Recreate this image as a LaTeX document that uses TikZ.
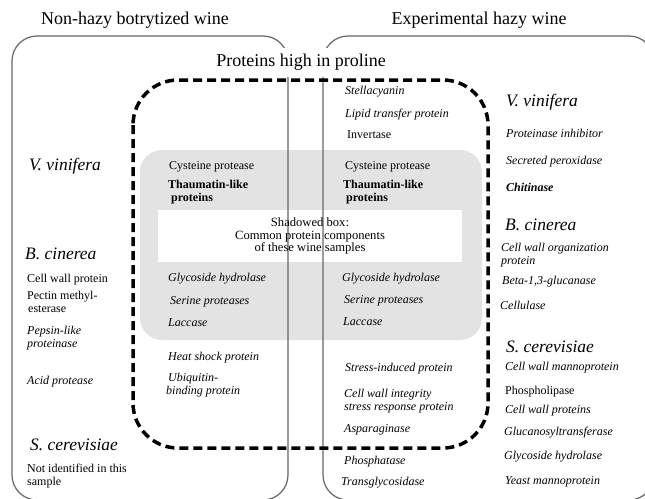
\documentclass[tikz,border=0pt]{standalone}
\usepackage{fontspec}
\setmainfont{Liberation Serif}
\begin{document}
\begin{tikzpicture}[x=1pt,y=-1pt,
  item/.style={anchor=west, inner sep=0pt, align=left, font=\fontsize{12}{13.5}\selectfont},
  itm/.style={anchor=west, inner sep=0pt, align=left, font=\fontsize{12}{13.5}\selectfont\itshape},
  bld/.style={anchor=west, inner sep=0pt, align=left, font=\fontsize{12}{13.5}\selectfont\bfseries},
  species/.style={anchor=west, inner sep=0pt, font=\fontsize{17.5}{20}\selectfont\itshape},
  heading/.style={inner sep=0pt, font=\fontsize{18}{20}\selectfont},
  boxline/.style={draw=black!60, line width=1.2pt, rounded corners=25pt},
  dashbox/.style={draw=black, line width=3.5pt, dash pattern=on 9pt off 5pt, rounded corners=45pt},
  shade/.style={fill=black!11, rounded corners=22pt},
  whitebox/.style={fill=white, draw=none}
]
\useasboundingbox (0,0) rectangle (645,498);
\clip (0,0) rectangle (645,498);

% shaded common area
\path[shade] (140,150) rectangle (482,340);
\node[whitebox, minimum width=304pt, minimum height=52pt, inner sep=0pt] (sb) at (310,236) {};

% outer sample boxes
\draw[boxline] (12,36) rectangle (288,500);
\draw[boxline] (323,36) rectangle (654,500);

% dashed box
\draw[dashbox] (133,80) rectangle (488,448);

% headings
\node[heading] (t1) at (135,20) {Non-hazy botrytized wine};
\node[heading] (t2) at (479,20) {Experimental hazy wine};
\node[heading, fill=white, minimum height=29pt, inner xsep=5pt] (t3) at (301,62) {Proteins high in proline};

% shadowed box text
\node[inner sep=0pt, align=center, font=\fontsize{12.6}{12.8}\selectfont] (sbt) at (sb) {Shadowed box:\\Common protein components\\of these wine samples};

% left column
\node[species] (lv) at (29,166) {V. vinifera};
\node[species] (lb) at (25,254) {B. cinerea};
\node[item] (l1) at (27,280) {Cell wall protein};
\node[item] (l2) at (27,302) {Pectin methyl-\\\hspace{1pt}esterase};
\node[itm] (l3) at (27,338) {Pepsin-like\\proteinase};
\node[itm] (l4) at (27,382) {Acid protease};
\node[species] (ls) at (30,445) {S. cerevisiae};
\node[item] (l5) at (27,476) {Not identified in this\\sample};

% middle-left column
\node[item] (ml1) at (169,167) {Cysteine protease};
\node[bld] (ml2) at (168,192) {Thaumatin-like\\\hspace{3pt}proteins};
\node[itm] (ml3) at (168,279) {Glycoside hydrolase};
\node[itm] (ml4) at (170,302) {Serine proteases};
\node[itm] (ml5) at (168,323) {Laccase};
\node[itm] (ml6) at (168,358) {Heat shock protein};
\node[itm] (ml7) at (166,385) {\hspace{2pt}Ubiquitin-\\binding protein};

% middle-right column
\node[itm] (mr0) at (345,92) {Stellacyanin};
\node[itm] (mr1) at (345,115) {Lipid transfer protein};
\node[item] (mr2) at (347,135) {Invertase};
\node[item] (mr3) at (345,167) {Cysteine protease};
\node[bld] (mr4) at (343,192) {Thaumatin-like\\\hspace{3pt}proteins};
\node[itm] (mr5) at (342,279) {Glycoside hydrolase};
\node[itm] (mr6) at (344,301) {Serine proteases};
\node[itm] (mr7) at (343,322) {Laccase};
\node[itm] (mr8) at (345,369) {Stress-induced protein};
\node[itm] (mr9) at (344,401) {Cell wall integrity\\stress response protein};
\node[itm] (mr10) at (344,430) {Asparaginase};
\node[itm] (mr11) at (344,462) {Phosphatase};
\node[itm] (mr12) at (341,483) {Transglycosidase};

% right column
\node[species] (rv) at (506,102) {V. vinifera};
\node[itm] (r1) at (506,133) {Proteinase inhibitor};
\node[itm] (r2) at (506,162) {Secreted peroxidase};
\node[itm, font=\fontsize{12}{13.5}\selectfont\bfseries\itshape] (r3) at (506,187) {Chitinase};
\node[species] (rb) at (505,225) {B. cinerea};
\node[itm] (r4) at (501,255) {Cell wall organization\\protein};
\node[itm] (r5) at (502,282) {Beta-1,3-glucanase};
\node[itm] (r6) at (500,305) {Cellulase};
\node[species] (rs) at (506,347) {S. cerevisiae};
\node[itm] (r7) at (505,368) {Cell wall mannoprotein};
\node[item] (r8) at (505,392) {Phospholipase};
\node[itm] (r9) at (505,411) {Cell wall proteins};
\node[itm] (r10) at (504,433) {Glucanosyltransferase};
\node[itm] (r11) at (504,457) {Glycoside hydrolase};
\node[itm] (r12) at (505,482) {Yeast mannoprotein};
\end{tikzpicture}
\end{document}
